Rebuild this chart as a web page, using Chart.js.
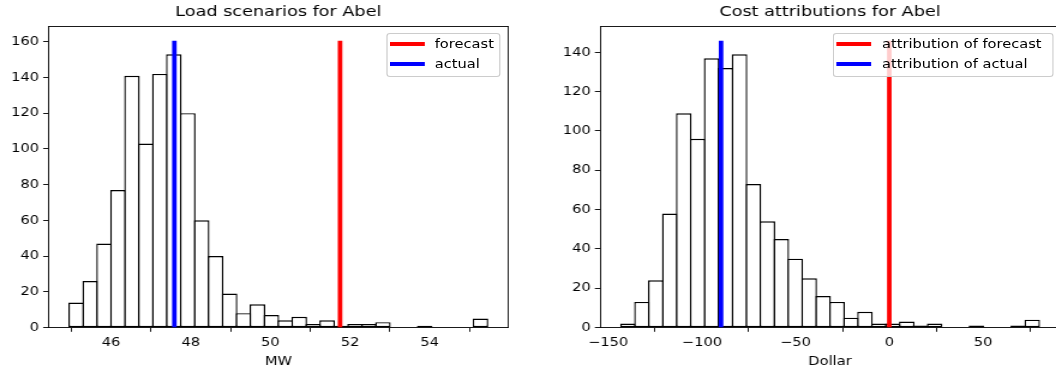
<!DOCTYPE html>
<html><head><meta charset="utf-8">
<script src="https://cdn.jsdelivr.net/npm/chart.js@4.4.1/dist/chart.umd.min.js"></script>
<style>
html,body{margin:0;padding:0;width:1056px;height:373px;overflow:hidden;background:#fff;}
#fig{position:absolute;left:0;top:0;width:885px;height:373px;transform:scaleX(1.2);transform-origin:0 0;}
canvas{position:absolute;top:0;}
#c1{left:0;}
#c2{left:440px;}
.legend{position:absolute;top:32.7px;height:44px;box-sizing:border-box;background:rgba(255,255,255,0.8);border:1px solid #cccccc;border-radius:3px;font-family:'DejaVu Sans',sans-serif;font-size:12.2px;color:#000;padding:0.5px 0 0 2px;white-space:nowrap;}
.legend .row{display:flex;align-items:center;height:19.7px;}
.legend .sw{display:inline-block;flex:none;width:28.9px;height:3.8px;margin-right:8.7px;}
</style></head><body>
<div id="fig">
<canvas id="c1" width="440" height="373"></canvas>
<canvas id="c2" width="445" height="373"></canvas>
<div id="leg1" class="legend" style="left:321.7px;width:95.8px;"></div>
<div id="leg2" class="legend" style="left:694.4px;width:183.4px;"></div>
</div>
<script>
// ---- Left panel: Load scenarios ----
const loadBinCenters = [45.125, 45.475, 45.825, 46.175, 46.525, 46.875, 47.225, 47.575, 47.925, 48.275,
  48.625, 48.975, 49.325, 49.675, 50.025, 50.375, 50.725, 51.075, 51.425, 51.775,
  52.125, 52.475, 52.825, 53.175, 53.525, 53.875, 54.225, 54.575, 54.925, 55.275];
const loadCounts = [14, 26, 47, 77, 141, 103, 142, 153, 120, 60,
  40, 19, 8, 13, 7, 4, 6, 2, 4, 1,
  2, 2, 3, 0, 0, 1, 0, 0, 0, 5];
const loadForecast = 51.75;
const loadActual = 47.59;
const loadLineTop = 160.65;
const loadXRange = [44.425, 55.975];
const loadYMax = 168.68;
const loadXTicks = [46, 48, 50, 52, 54];
const loadYTicks = [0, 20, 40, 60, 80, 100, 120, 140, 160];

// ---- Right panel: Cost attributions ----
const costBinCenters = [-139.48, -132.04, -124.6, -117.16, -109.72, -102.28, -94.84, -87.4, -79.96, -72.52,
  -65.08, -57.64, -50.2, -42.76, -35.32, -27.88, -20.44, -13.0, -5.56, 1.88,
  9.32, 16.76, 24.2, 31.64, 39.08, 46.52, 53.96, 61.4, 68.84, 76.28];
const costCounts = [2, 13, 24, 58, 109, 96, 137, 132, 139, 73,
  54, 45, 35, 25, 16, 13, 5, 8, 2, 2,
  3, 1, 2, 0, 0, 1, 0, 0, 1, 4];
const costForecast = 0;
const costActual = -89.8;
const costLineTop = 145.95;
const costXRange = [-154.4, 91.1];
const costYMax = 153.25;
const costXTicks = [-150, -100, -50, 0, 50];
const costYTicks = [0, 20, 40, 60, 80, 100, 120, 140];

Chart.defaults.font.family = "'DejaVu Sans', sans-serif";
Chart.defaults.color = '#000';

const htmlLegend = {
  id: 'htmlLegend',
  afterUpdate(chart, args, opts) {
    const box = document.getElementById(opts.containerID);
    box.innerHTML = '';
    chart.data.datasets.forEach(ds => {
      if (!ds.label) return;
      const row = document.createElement('div'); row.className = 'row';
      const sw = document.createElement('span'); sw.className = 'sw'; sw.style.background = ds.borderColor;
      const tx = document.createElement('span'); tx.textContent = ds.label;
      row.appendChild(sw); row.appendChild(tx); box.appendChild(row);
    });
  }
};

const fmtTick = v => (v < 0 ? '\u2212' + Math.abs(v) : String(v));

function makeChart(id, legendId, o) {
  const tickFont = {size: 12.2};
  return new Chart(document.getElementById(id), {
    type: 'bar',
    plugins: [htmlLegend],
    data: {
      datasets: [
        {type: 'line', label: o.forecastLabel, data: [{x: o.forecast, y: 0}, {x: o.forecast, y: o.lineTop}],
         borderColor: '#ff0000', borderWidth: 3.8, pointRadius: 0, fill: false, order: 1},
        {type: 'line', label: o.actualLabel, data: [{x: o.actual, y: 0}, {x: o.actual, y: o.lineTop}],
         borderColor: '#0000ff', borderWidth: 3.8, pointRadius: 0, fill: false, order: 1},
        {type: 'bar', data: o.centers.map((c, i) => ({x: c, y: o.counts[i]})),
         backgroundColor: '#ffffff', borderColor: '#000000', borderWidth: 1.4, borderSkipped: false,
         barPercentage: 1.12, categoryPercentage: 1, order: 2}
      ]
    },
    options: {
      responsive: false, animation: false, events: [],
      layout: {padding: {left: 0, right: o.padRight, top: 0, bottom: 0}},
      plugins: {
        legend: {display: false}, tooltip: {enabled: false},
        title: {display: true, text: o.title, fullSize: false, color: '#000',
                font: {size: 14.7, weight: 'normal'}, padding: {top: 3.4, bottom: 5.26}},
        htmlLegend: {containerID: legendId}
      },
      scales: {
        x: {type: 'linear', position: 'bottom', min: o.xRange[0], max: o.xRange[1], offset: false,
            afterBuildTicks: s => { s.ticks = o.xTicks.map(v => ({value: v})); },
            ticks: {font: tickFont, color: '#000', padding: 4, maxRotation: 0, autoSkip: false, callback: fmtTick},
            grid: {display: true, drawOnChartArea: false, drawTicks: true, tickLength: 4.3, color: '#000', lineWidth: 0.9},
            border: {display: true, color: '#000', width: 0.9},
            title: {display: true, text: o.xLabel, color: '#000', font: {size: 12.2}, padding: {top: 0, bottom: 4.2}},
            afterFit: s => { s.height = 45.5; }},
        y: {type: 'linear', position: 'left', min: 0, max: o.yMax,
            afterBuildTicks: s => { s.ticks = o.yTicks.map(v => ({value: v})); },
            ticks: {font: tickFont, color: '#000', padding: 3.5, autoSkip: false},
            grid: {display: true, drawOnChartArea: false, drawTicks: true, tickLength: 4.3, color: '#000', lineWidth: 0.9},
            border: {display: true, color: '#000', width: 0.9},
            afterFit: s => { s.width = o.yWidth; }},
        x2: {type: 'linear', position: 'top', display: true,
             ticks: {display: false}, grid: {display: false},
             border: {display: true, color: '#000', width: 0.9},
             afterFit: s => { s.height = 0; }},
        y2: {type: 'linear', position: 'right', display: true,
             ticks: {display: false}, grid: {display: false},
             border: {display: true, color: '#000', width: 0.9},
             afterFit: s => { s.width = 0; }}
      }
    }
  });
}

makeChart('c1', 'leg1', {
  title: 'Load scenarios for Abel', xLabel: 'MW',
  forecastLabel: 'forecast', actualLabel: 'actual',
  centers: loadBinCenters, counts: loadCounts,
  forecast: loadForecast, actual: loadActual, lineTop: loadLineTop,
  xRange: loadXRange, yMax: loadYMax, xTicks: loadXTicks, yTicks: loadYTicks,
  yWidth: 40.25, padRight: 16.4
});
makeChart('c2', 'leg2', {
  title: 'Cost attributions for Abel', xLabel: 'Dollar',
  forecastLabel: 'attribution of forecast', actualLabel: 'attribution of actual',
  centers: costBinCenters, counts: costCounts,
  forecast: costForecast, actual: costActual, lineTop: costLineTop,
  xRange: costXRange, yMax: costYMax, xTicks: costXTicks, yTicks: costYTicks,
  yWidth: 60, padRight: 1.7
});
</script>
</body></html>
